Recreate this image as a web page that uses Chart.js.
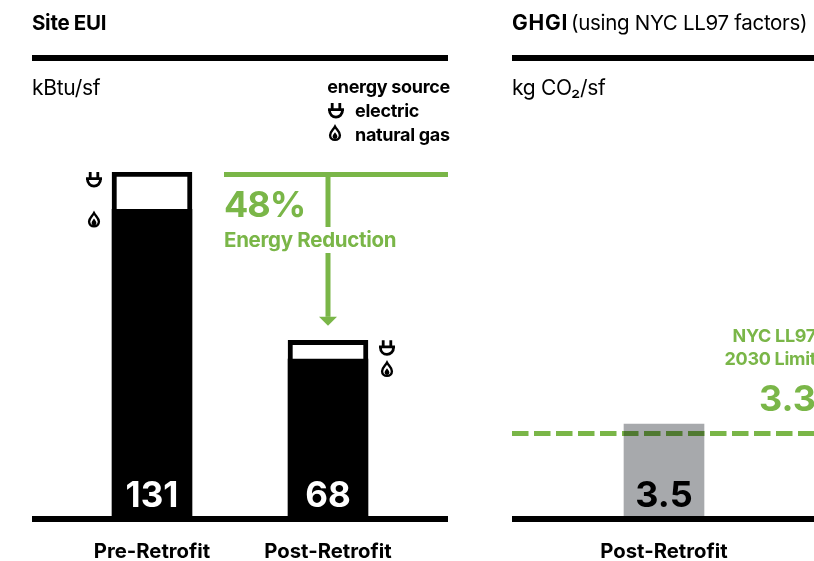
<!DOCTYPE html>
<html><head><meta charset="utf-8">
<style>
html,body{margin:0;padding:0;background:#fff;width:814px;height:561px;overflow:hidden}
canvas{position:absolute;top:0}
#a{left:0}#b{left:490px}
</style>
<script src="https://cdn.jsdelivr.net/npm/chart.js@4"></script>
</head><body>
<div style="position:absolute;left:0;top:0;width:470px;height:561px"><canvas id="a"></canvas></div>
<div style="position:absolute;left:490px;top:0;width:340px;height:561px"><canvas id="b" style="left:0"></canvas></div>
<script>
const euiCategories = ['Pre-Retrofit', 'Post-Retrofit'];
const euiGas = [117, 61];
const euiElectric = [14, 7];
const euiTotals = [131, 68];
const reductionLabel = '48%';
const ghgiCategories = ['Post-Retrofit'];
const ghgiValues = [3.5];
const ghgiLabels = ['3.5'];
const limitPosition = [3.16, 3.16];
const limitLabel = '3.3';

const BLACK = '#000000', GREEN = '#7ab648', GREY = '#a7a9ac';
const FF = 'Inter, sans-serif';

function txt(ctx, s, x, y, font, color, align, ls) {
  ctx.save();
  ctx.font = font; ctx.fillStyle = color; ctx.textAlign = align || 'left';
  ctx.textBaseline = 'alphabetic';
  ctx.letterSpacing = (ls === undefined ? -0.3 : ls) + 'px';
  ctx.fillText(s, x, y);
  ctx.restore();
}
function plug(ctx, x, y) { // box 16x16, top-left at x,y
  ctx.save(); ctx.translate(x, y);
  ctx.strokeStyle = BLACK; ctx.lineWidth = 2.8; ctx.lineCap = 'butt';
  ctx.beginPath();
  ctx.moveTo(4.2, 0); ctx.lineTo(4.2, 7);
  ctx.moveTo(11.8, 0); ctx.lineTo(11.8, 7);
  ctx.moveTo(0, 6.6); ctx.lineTo(16, 6.6);
  ctx.moveTo(1.4, 6.6); ctx.bezierCurveTo(1.4, 16.6, 14.6, 16.6, 14.6, 6.6);
  ctx.stroke();
  ctx.restore();
}
function flame(ctx, x, y) { // box 12x16
  ctx.save(); ctx.translate(x, y);
  ctx.fillStyle = BLACK; ctx.strokeStyle = BLACK; ctx.lineWidth = 2.4;
  ctx.beginPath();
  ctx.moveTo(6, 1.6);
  ctx.bezierCurveTo(7.6, 4.6, 10.9, 6.6, 10.9, 10.2);
  ctx.bezierCurveTo(10.9, 13, 8.8, 14.9, 6, 14.9);
  ctx.bezierCurveTo(3.2, 14.9, 1.1, 13, 1.1, 10.2);
  ctx.bezierCurveTo(1.1, 6.6, 4.4, 4.6, 6, 1.6);
  ctx.closePath();
  ctx.stroke();
  ctx.beginPath();
  ctx.moveTo(6, 7.2);
  ctx.bezierCurveTo(6.8, 8.8, 8.4, 9.8, 8.4, 11.6);
  ctx.bezierCurveTo(8.4, 13, 7.4, 14, 6, 14);
  ctx.bezierCurveTo(4.6, 14, 3.6, 13, 3.6, 11.6);
  ctx.bezierCurveTo(3.6, 9.8, 5.2, 8.8, 6, 7.2);
  ctx.fill();
  ctx.restore();
}

const euiDecor = {
  id: 'euiDecor',
  afterDatasetsDraw(chart) {
    const { ctx, scales: { x, y } } = chart;
    const L = 32, R = 448;
    ctx.save();
    ctx.fillStyle = BLACK;
    ctx.fillRect(L, 55, R - L, 6);
    ctx.fillRect(L, y.getPixelForValue(0) - 6, R - L, 6);
    euiTotals.forEach((v, i) => {
      txt(ctx, String(v), x.getPixelForValue(i), 507, '700 35px ' + FF, '#fff', 'center', 0);
    });
    const px0 = x.getPixelForValue(0) - 66, px1 = x.getPixelForValue(1) + 51;
    plug(ctx, px0, y.getPixelForValue(euiTotals[0]));
    flame(ctx, px0 + 2, y.getPixelForValue(euiGas[0]) + 2);
    plug(ctx, px1, y.getPixelForValue(euiTotals[1]));
    flame(ctx, px1 + 2, y.getPixelForValue(euiGas[1]) + 2);
    const top = y.getPixelForValue(euiTotals[0]);
    const cx = x.getPixelForValue(1);
    const tip = y.getPixelForValue(euiTotals[1]) - 14.5;
    ctx.fillStyle = GREEN;
    ctx.fillRect(224, top, R - 224, 5);
    ctx.fillRect(cx - 2.5, top, 5, 55);
    ctx.fillRect(cx - 2.5, 253, 5, tip - 9 - 253);
    ctx.beginPath();
    ctx.moveTo(cx - 9, tip - 9); ctx.lineTo(cx + 9, tip - 9); ctx.lineTo(cx, tip); ctx.closePath();
    ctx.fill();
    ctx.restore();
    txt(ctx, reductionLabel, 224, 217, '700 36px ' + FF, GREEN, 'left', -1);
    txt(ctx, 'Energy Reduction', 224, 247, '700 20.5px ' + FF, GREEN, 'left', -0.3);
    txt(ctx, 'Site EUI', 32, 30, '700 20.5px ' + FF, BLACK);
    txt(ctx, 'kBtu/sf', 32, 95, '400 21px ' + FF, BLACK);
    txt(ctx, 'energy source', 450, 93, '700 18px ' + FF, BLACK, 'right');
    plug(ctx, 328, 103); flame(ctx, 329, 125);
    txt(ctx, 'electric', 355, 117, '700 18px ' + FF, BLACK);
    txt(ctx, 'natural gas', 355, 141, '700 18px ' + FF, BLACK);
  }
};
const ghgiDecor = {
  id: 'ghgiDecor',
  beforeDatasetDraw(chart, args) {
    if (chart.data.datasets[args.index].type === 'line') chart.ctx.globalCompositeOperation = 'multiply';
  },
  afterDatasetDraw(chart) {
    chart.ctx.globalCompositeOperation = 'source-over';
  },
  afterDatasetsDraw(chart) {
    const { ctx, scales: { x, y } } = chart;
    const L = 22, R = 340;
    ctx.save();
    ctx.fillStyle = BLACK;
    ctx.fillRect(L, 55, R - L, 6);
    ctx.fillRect(L, y.getPixelForValue(0) - 6, R - L, 6);
    ctx.restore();
    ghgiLabels.forEach((s, i) => txt(ctx, s, x.getPixelForValue(i), 507, '700 36px ' + FF, BLACK, 'center', 0));
    txt(ctx, 'GHGI', 22, 30, '700 21px ' + FF, BLACK, 'left', 0.8);
    txt(ctx, '(using NYC LL97 factors)', 81, 30, '400 20.5px ' + FF, BLACK);
    txt(ctx, 'kg CO\u2082/sf', 22, 95, '400 21px ' + FF, BLACK);
    txt(ctx, 'NYC LL97', 326, 342, '700 18px ' + FF, GREEN, 'right');
    txt(ctx, '2030 Limit', 326, 365, '700 18px ' + FF, GREEN, 'right');
    txt(ctx, limitLabel, 326, 411, '700 36px ' + FF, GREEN, 'right', 0);
  }
};
Chart.defaults.animation = false;
const tickFont = { family: 'Inter', size: 20.3, weight: '700' };
const xFit = s => { s.height = 39; };
new Chart(document.getElementById('a'), {
  type: 'bar',
  data: {
    labels: euiCategories,
    datasets: [
      { label: 'natural gas', data: euiGas, backgroundColor: BLACK, borderWidth: 0, barThickness: 80, stack: 's' },
      { label: 'electric', data: euiElectric, backgroundColor: '#fff', borderColor: BLACK, borderWidth: 5, borderSkipped: 'bottom', barThickness: 80, stack: 's' }
    ]
  },
  options: {
    responsive: true, maintainAspectRatio: false,
    layout: { padding: { left: 64, right: 54, top: 172, bottom: 0 } },
    plugins: { legend: { display: false }, tooltip: { enabled: false } },
    scales: {
      x: { stacked: true, afterFit: xFit, grid: { display: false, drawTicks: false }, border: { display: false },
           ticks: { padding: 18, color: BLACK, font: tickFont, maxRotation: 0 } },
      y: { stacked: true, display: false, min: 0, max: 131 }
    }
  },
  plugins: [euiDecor]
});
new Chart(document.getElementById('b'), {
  type: 'bar',
  data: {
    labels: ghgiCategories,
    datasets: [
      { type: 'line', label: 'NYC LL97 2030 Limit', data: [{ x: 0, y: limitPosition[0] }, { x: 1, y: limitPosition[1] }],
        xAxisID: 'x2', borderColor: GREEN, borderWidth: 5, borderDash: [16.5, 5.5], pointRadius: 0, order: 0 },
      { label: 'GHGI', data: ghgiValues, backgroundColor: GREY, borderWidth: 0, barThickness: 80, grouped: false, order: 1 }
    ]
  },
  options: {
    responsive: true, maintainAspectRatio: false,
    layout: { padding: { left: 22, right: 14, top: 172, bottom: 0 } },
    plugins: { legend: { display: false }, tooltip: { enabled: false } },
    scales: {
      x: { afterFit: xFit, grid: { display: false, drawTicks: false }, border: { display: false },
           ticks: { padding: 18, color: BLACK, font: tickFont, maxRotation: 0 } },
      x2: { type: 'linear', display: false, min: 0, max: 1, offset: false },
      y: { display: false, min: 0, max: 12.5 }
    }
  },
  plugins: [ghgiDecor]
});
</script>
</body></html>
